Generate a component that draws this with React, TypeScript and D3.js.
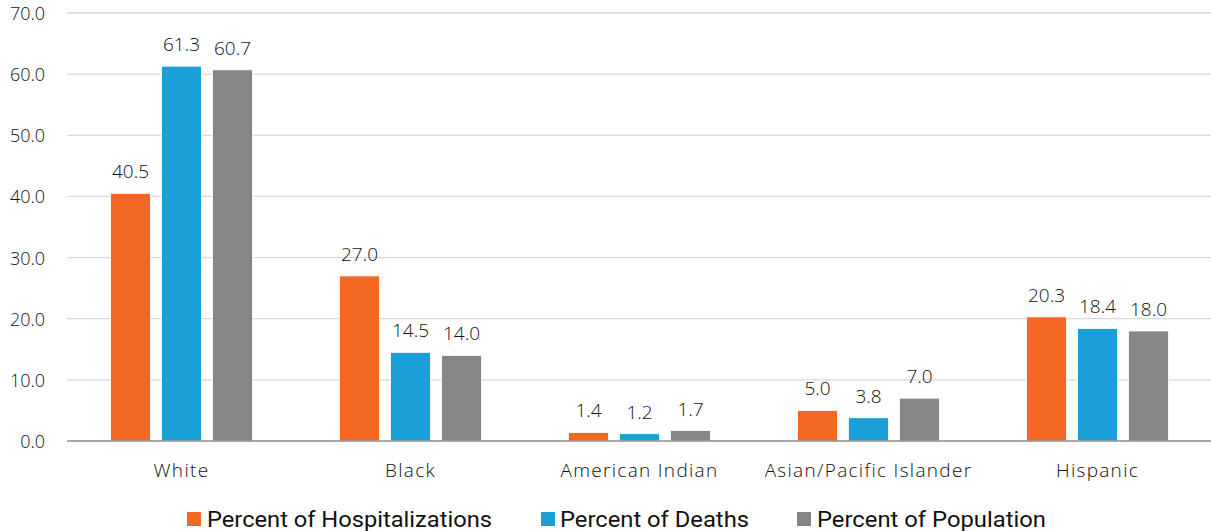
import React from "react";
import * as d3 from "d3";

const categories = ["White", "Black", "American Indian", "Asian/Pacific Islander", "Hispanic"];
const seriesNames = ["Percent of Hospitalizations", "Percent of Deaths", "Percent of Population"];
const hospitalizations = [40.5, 27.0, 1.4, 5.0, 20.3];
const deaths = [61.3, 14.5, 1.2, 3.8, 18.4];
const population = [60.7, 14.0, 1.7, 7.0, 18.0];
const yTicks = [0, 10, 20, 30, 40, 50, 60, 70];
const colors = ["#F26722", "#1A9FD9", "#858688"];

const seriesValues = [hospitalizations, deaths, population];

const W = 1211;
const H = 531;
const left = 67;
const right = 1212;
const top = 13;
const bottom = 441;

const numFont = "'Open Sans', Lato, sans-serif";
const legendFont = "Roboto, 'Noto Sans', sans-serif";

export default function App() {
  const x0 = d3.scaleBand<string>().domain(categories).range([left, right]).padding(0);
  const x1 = d3
    .scaleBand<string>()
    .domain(seriesNames)
    .range([0, 142])
    .paddingInner(11 / 51)
    .paddingOuter(0);
  const y = d3.scaleLinear().domain([0, 70]).range([bottom, top]);
  const groupOffset = x0.bandwidth() / 2 - 71;

  const legendItems = [
    { sx: 187, tx: 207, w: 285 },
    { sx: 541, tx: 560, w: 189 },
    { sx: 797, tx: 817, w: 229 },
  ];

  return (
    <svg
      width={W}
      height={H}
      style={{ position: "absolute", left: 0, top: 0, background: "#fff" }}
    >
      {/* gridlines and y labels */}
      {yTicks.map((t) => (
        <g key={t}>
          {t !== 0 && (
            <line x1={left} x2={W} y1={y(t)} y2={y(t)} stroke="#d9d9d9" strokeWidth={1.3} />
          )}
          <text
            x={45}
            y={y(t)}
            textAnchor="end"
            dominantBaseline="central"
            fontFamily={numFont}
            fontWeight={300}
            fontSize={18}
            fill="#111"
          >
            {d3.format(".1f")(t)}
          </text>
        </g>
      ))}

      {/* bars with value labels */}
      {categories.map((c, ci) => (
        <g key={c} transform={`translate(${(x0(c) ?? 0) + groupOffset},0)`}>
          {seriesNames.map((s, si) => {
            const v = seriesValues[si][ci];
            const bx = x1(s) ?? 0;
            return (
              <g key={s}>
                <rect
                  x={bx}
                  y={y(v)}
                  width={x1.bandwidth()}
                  height={y(0) - y(v)}
                  fill={colors[si]}
                  stroke="#fff"
                  strokeWidth={0.8}
                />
                <text
                  x={bx + x1.bandwidth() / 2}
                  y={y(v) - 15}
                  textAnchor="middle"
                  fontFamily={numFont}
                  fontWeight={300}
                  fontSize={19}
                  fill="#111"
                >
                  {d3.format(".1f")(v)}
                </text>
              </g>
            );
          })}
        </g>
      ))}

      {/* zero baseline */}
      <line x1={left} x2={W} y1={y(0)} y2={y(0)} stroke="#8c8c8c" strokeWidth={1.5} />

      {/* category labels */}
      {categories.map((c) => (
        <text
          key={c}
          x={(x0(c) ?? 0) + x0.bandwidth() / 2}
          y={477}
          textAnchor="middle"
          fontFamily={numFont}
          fontWeight={300}
          fontSize={19}
          letterSpacing={1.3}
          fill="#111"
        >
          {c}
        </text>
      ))}

      {/* legend */}
      {seriesNames.map((s, i) => (
        <g key={s}>
          <rect x={legendItems[i].sx} y={512} width={14} height={14} fill={colors[i]} />
          <text
            x={legendItems[i].tx}
            y={527}
            fontFamily={legendFont}
            fontSize={22}
            fill="#111"
            textLength={legendItems[i].w}
            lengthAdjust="spacingAndGlyphs"
          >
            {s}
          </text>
        </g>
      ))}
    </svg>
  );
}
